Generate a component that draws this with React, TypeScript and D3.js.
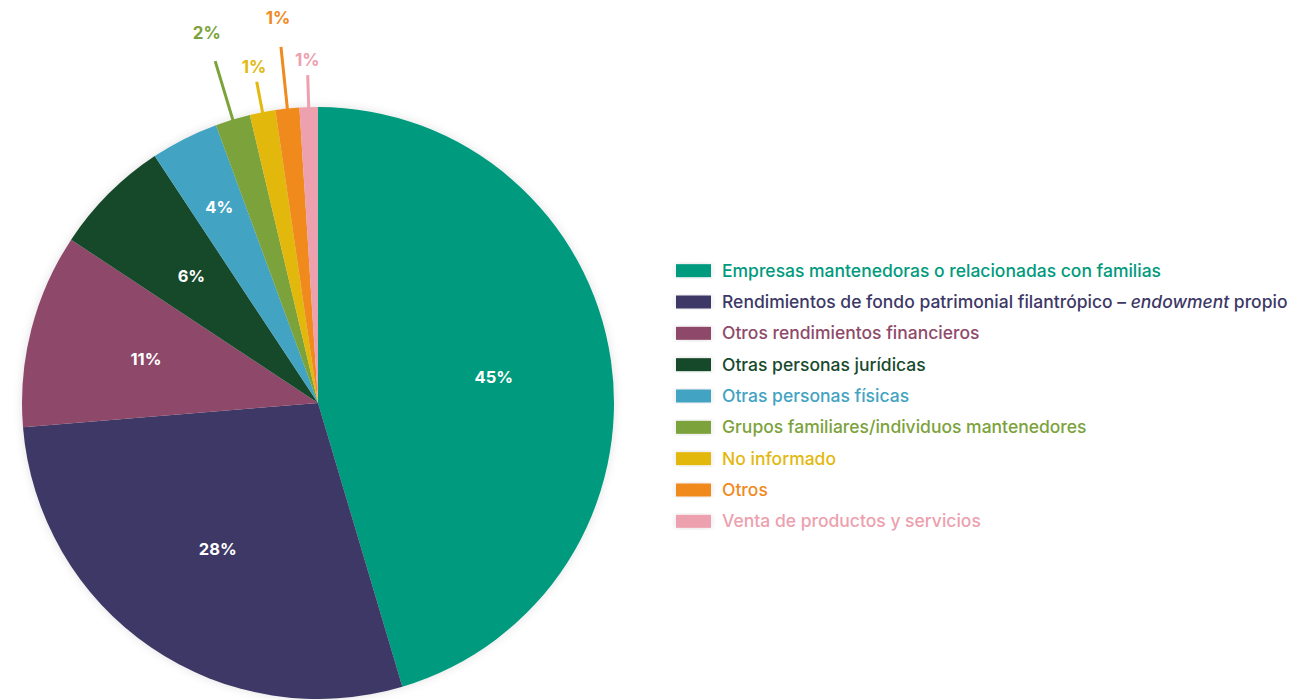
import * as d3 from "d3";
import React from "react";

const categories = [
  "Empresas mantenedoras o relacionadas con familias",
  "Rendimientos de fondo patrimonial filantrópico – endowment propio",
  "Otros rendimientos financieros",
  "Otras personas jurídicas",
  "Otras personas físicas",
  "Grupos familiares/individuos mantenedores",
  "No informado",
  "Otros",
  "Venta de productos y servicios",
];
const values = [45.4, 28.3, 10.6, 6.4, 3.7, 1.9, 1.4, 1.3, 1.0];
const colors = [
  "#009a7e",
  "#3d3866",
  "#8e4a6a",
  "#174a2c",
  "#42a3c2",
  "#7ba23b",
  "#e3b80f",
  "#f08a1e",
  "#eda0ae",
];
// small slices get a leader line outside the pie: long / short alternating
const outsideLen = [0, 0, 0, 0, 0, 61, 31, 62, 32];
const labelGap = [0, 0, 0, 0, 0, 29, 15, 29, 15];
// radial position of inside labels, as share of radius
const insidePos = [0.6, 0.6, 0.6, 0.605, 0.74];

const cx = 318;
const cy = 403;
const radius = 296;
const font = "Inter, 'Noto Sans', sans-serif";

export default function App() {
  const pie = d3
    .pie<number>()
    .sort(null)
    .value((d) => d);
  const arcs = pie(values);
  const arc = d3.arc<d3.PieArcDatum<number>>().innerRadius(0).outerRadius(radius);

  const legendY = d3
    .scaleBand<number>()
    .domain(d3.range(categories.length))
    .range([255, 537]);

  return (
    <svg width={1291} height={700} style={{ position: "absolute", left: 0, top: 0, background: "#fff" }}>
      <defs>
        <filter id="shadow" x="-10%" y="-10%" width="120%" height="120%">
          <feDropShadow dx="0" dy="0" stdDeviation="5" floodColor="#000" floodOpacity="0.12" />
        </filter>
      </defs>
      <g transform={`translate(${cx},${cy})`}>
        <g filter="url(#shadow)">
          {arcs.map((a, i) => (
            <path key={i} d={arc(a) || ""} fill={colors[i]} />
          ))}
        </g>
        {arcs.map((a, i) => {
          const mid = (a.startAngle + a.endAngle) / 2;
          const label = `${Math.round(values[i])}%`;
          if (outsideLen[i] === 0) {
            const rr = radius * insidePos[i];
            return (
              <text
                key={i}
                x={Math.sin(mid) * rr}
                y={-Math.cos(mid) * rr}
                dy="0.35em"
                textAnchor="middle"
                fill="#fff"
                fontFamily={font}
                fontWeight={700}
                fontSize={16.5}
              >
                {label}
              </text>
            );
          }
          const r0 = radius - 4;
          const r1 = radius + outsideLen[i];
          const rl = r1 + labelGap[i];
          return (
            <g key={i}>
              <line
                x1={Math.sin(mid) * r0}
                y1={-Math.cos(mid) * r0}
                x2={Math.sin(mid) * r1}
                y2={-Math.cos(mid) * r1}
                stroke={colors[i]}
                strokeWidth={3}
              />
              <text
                x={Math.sin(mid) * rl}
                y={-Math.cos(mid) * rl}
                dy="0.35em"
                textAnchor="middle"
                fill={colors[i]}
                fontFamily={font}
                fontWeight={700}
                fontSize={17}
              >
                {label}
              </text>
            </g>
          );
        })}
      </g>
      <g>
        {categories.map((c, i) => {
          const y = (legendY(i) || 0) + legendY.bandwidth() / 2;
          const parts = c.split("endowment");
          return (
            <g key={i}>
              <rect x={676} y={y - 6.5} width={35} height={13} fill={colors[i]} filter="url(#shadow)" />
              <text
                x={722}
                y={y}
                dy="0.35em"
                fill={colors[i]}
                fontFamily={font}
                fontWeight={500}
                fontSize={17.5}
              >
                {parts.length > 1 ? (
                  <>
                    {parts[0]}
                    <tspan fontStyle="italic">endowment</tspan>
                    {parts[1]}
                  </>
                ) : (
                  c
                )}
              </text>
            </g>
          );
        })}
      </g>
    </svg>
  );
}
